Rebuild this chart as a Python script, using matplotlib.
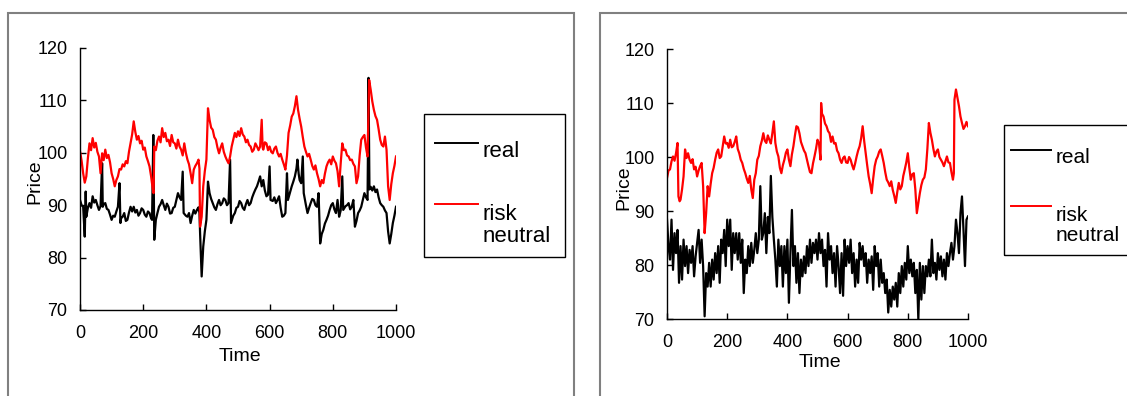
import numpy as np
import matplotlib
matplotlib.use("Agg")
import matplotlib.pyplot as plt
from matplotlib.patches import Rectangle
from matplotlib.legend_handler import HandlerLine2D

plt.rcParams['font.family'] = ['Liberation Sans', 'DejaVu Sans']

# ---------------- data: left panel ----------------
left_rn_t = [0, 5, 10, 15, 20, 25, 30, 35, 40, 45, 50, 55, 60, 65, 70, 75, 80, 85, 90, 95, 100, 105, 110,
             115, 120, 125, 130, 135, 140, 145, 150, 155, 160, 165, 170, 175, 180, 185, 190, 195, 200,
             205, 210, 215, 220, 225, 230, 233, 235, 240, 245, 250, 255, 260, 265, 270, 275, 280, 285,
             290, 295, 300, 305, 310, 315, 320, 325, 330, 335, 340, 345, 350, 355, 360, 365, 370, 375,
             378, 380, 385, 390, 395, 400, 405, 410, 415, 420, 425, 430, 435, 440, 445, 450, 455, 460,
             465, 470, 475, 480, 485, 490, 495, 500, 505, 510, 515, 520, 525, 530, 535, 540, 545, 550,
             555, 560, 565, 570, 575, 578, 580, 585, 590, 595, 600, 605, 610, 615, 620, 625, 630, 635,
             640, 645, 650, 655, 660, 665, 670, 675, 680, 685, 690, 695, 700, 705, 710, 715, 720, 725,
             730, 735, 740, 745, 750, 755, 760, 765, 770, 775, 780, 785, 790, 795, 800, 805, 810, 815,
             820, 825, 830, 835, 840, 845, 850, 855, 860, 865, 870, 875, 880, 885, 890, 895, 900, 905,
             910, 915, 920, 925, 930, 935, 940, 945, 950, 955, 960, 965, 970, 975, 980, 985, 990, 995,
             1000]
left_rn_v = [100.3, 98.5, 96.1, 94.3, 95.5, 99.0, 101.8, 100.5, 102.8, 101.0, 101.9, 100.2, 99.3, 96.1,
             99.9, 98.6, 100.6, 99.0, 99.6, 98.2, 96.1, 95.0, 93.6, 94.8, 95.5, 96.9, 96.8, 97.8, 97.4,
             98.4, 98.0, 100.2, 101.8, 103.5, 106.0, 104.0, 102.5, 103.2, 101.8, 102.3, 100.6, 101.0,
             99.3, 98.4, 97.4, 95.5, 93.2, 92.3, 101.2, 100.5, 102.3, 103.1, 102.0, 104.7, 103.0, 103.8,
             102.2, 102.5, 101.3, 103.4, 102.0, 101.8, 100.8, 102.5, 101.2, 100.6, 99.5, 101.8, 100.0,
             98.7, 97.8, 96.1, 94.2, 96.8, 97.5, 98.0, 98.7, 97.0, 85.9, 87.8, 93.6, 96.5, 98.7, 108.5,
             106.3, 104.8, 104.4, 103.0, 102.5, 101.0, 99.9, 101.0, 101.8, 100.2, 99.3, 98.6, 98.0, 99.3,
             101.2, 102.5, 103.8, 103.0, 104.1, 103.2, 104.7, 103.5, 103.1, 102.0, 102.5, 101.5, 101.2,
             100.2, 100.6, 101.8, 101.2, 100.5, 101.2, 106.3, 101.0, 100.6, 102.0, 101.8, 100.5, 101.2,
             100.2, 99.9, 100.8, 101.2, 100.0, 99.3, 99.8, 98.7, 97.8, 96.8, 99.5, 103.8, 105.2, 106.9,
             107.5, 108.9, 110.8, 108.2, 106.5, 105.0, 103.0, 101.2, 100.2, 99.3, 99.8, 98.7, 97.5, 96.8,
             97.6, 96.1, 95.0, 93.6, 94.8, 94.2, 96.0, 97.4, 98.2, 98.7, 97.8, 99.3, 98.5, 98.0, 96.5,
             93.6, 98.0, 101.8, 100.5, 100.6, 99.5, 99.3, 98.6, 98.7, 97.9, 97.4, 94.2, 95.5, 99.5, 102.5,
             103.0, 103.4, 101.0, 99.3, 113.9, 112.0, 109.8, 108.2, 107.0, 106.3, 104.5, 102.5, 101.5,
             101.2, 103.1, 100.6, 93.6, 91.0, 94.0, 96.1, 97.5, 99.3]

left_real_t = [0, 5, 10, 15, 18, 20, 25, 30, 35, 40, 45, 50, 55, 60, 65, 70, 72, 75, 80, 85, 90, 95, 100,
               105, 110, 115, 120, 125, 128, 130, 135, 140, 145, 150, 155, 160, 165, 170, 175, 180, 185,
               190, 195, 200, 205, 210, 215, 220, 225, 228, 232, 235, 240, 245, 250, 255, 260, 265, 270,
               275, 280, 285, 290, 295, 300, 305, 310, 315, 320, 325, 328, 335, 340, 345, 350, 355, 360,
               365, 370, 375, 378, 380, 385, 390, 395, 400, 405, 410, 415, 420, 425, 430, 435, 440, 445,
               450, 455, 460, 465, 470, 475, 478, 485, 490, 495, 500, 505, 510, 515, 520, 525, 530, 535,
               540, 545, 550, 555, 560, 565, 570, 575, 580, 585, 590, 595, 600, 603, 610, 615, 620, 625,
               630, 635, 640, 645, 650, 655, 658, 665, 670, 675, 680, 685, 688, 692, 695, 700, 705, 708,
               715, 720, 725, 730, 735, 740, 745, 750, 755, 760, 765, 770, 775, 780, 785, 790, 795, 800,
               805, 810, 815, 820, 825, 830, 833, 840, 845, 850, 855, 860, 865, 870, 875, 880, 885, 890,
               895, 900, 905, 910, 913, 916, 920, 925, 930, 935, 940, 945, 950, 955, 960, 965, 970, 975,
               980, 985, 990, 995, 1000]
left_real_v = [91.0, 90.0, 89.7, 84.0, 92.6, 87.8, 89.5, 90.4, 89.5, 91.7, 90.5, 91.0, 90.0, 89.1, 89.8,
               98.0, 89.7, 90.2, 90.4, 89.3, 89.1, 88.2, 87.2, 88.0, 87.8, 88.8, 89.7, 94.2, 86.6, 87.5,
               87.8, 88.5, 87.0, 87.2, 88.6, 89.7, 88.8, 89.7, 88.6, 89.1, 88.0, 88.5, 89.4, 89.1, 88.2,
               87.8, 88.8, 88.5, 87.5, 87.2, 103.4, 83.4, 87.2, 88.5, 89.7, 90.2, 91.0, 90.0, 89.1, 90.3,
               89.7, 88.4, 88.5, 89.5, 89.7, 91.0, 92.3, 91.5, 91.0, 96.4, 88.5, 88.0, 87.8, 88.5, 86.6,
               88.0, 89.1, 88.4, 89.1, 89.6, 88.5, 84.7, 76.4, 82.1, 85.0, 87.2, 94.5, 92.3, 91.2, 90.4,
               89.6, 89.1, 90.2, 91.0, 90.0, 90.4, 91.3, 91.0, 90.0, 90.4, 98.7, 86.6, 88.0, 88.5, 89.5,
               89.7, 90.8, 90.4, 89.5, 89.1, 90.2, 91.0, 90.0, 90.4, 91.5, 92.3, 93.0, 93.6, 94.5, 95.5,
               93.6, 94.8, 92.8, 91.7, 92.0, 97.4, 91.0, 90.8, 91.5, 90.4, 91.0, 91.7, 89.5, 87.8, 88.0,
               88.5, 96.1, 91.0, 92.5, 93.6, 94.5, 95.5, 97.0, 98.7, 96.0, 94.8, 94.2, 99.3, 92.3, 90.0,
               88.5, 89.5, 90.4, 91.2, 91.0, 90.0, 89.7, 92.3, 82.7, 84.5, 85.3, 86.5, 87.2, 88.0, 89.1,
               90.0, 90.4, 89.2, 88.5, 91.0, 87.8, 89.0, 95.5, 89.1, 89.8, 90.0, 90.4, 89.2, 89.7, 91.0,
               85.9, 87.0, 88.5, 89.0, 89.7, 91.0, 92.3, 91.5, 91.0, 114.3, 93.0, 93.5, 92.8, 93.6, 92.5,
               93.0, 91.5, 90.4, 90.0, 89.7, 89.0, 88.5, 85.0, 82.7, 84.5, 86.6, 88.0, 89.7]

# ---------------- data: right panel ----------------
right_rn_t = [0, 5, 10, 15, 20, 25, 30, 35, 38, 42, 45, 50, 55, 60, 65, 70, 75, 80, 85, 90, 95, 100, 105,
              110, 115, 120, 125, 130, 135, 140, 145, 150, 155, 160, 165, 170, 175, 180, 185, 190, 195,
              200, 205, 210, 215, 220, 225, 230, 235, 240, 245, 250, 255, 260, 265, 270, 275, 280, 285,
              290, 295, 300, 305, 310, 315, 320, 325, 330, 335, 340, 345, 350, 355, 360, 365, 370, 375,
              380, 385, 390, 395, 400, 405, 410, 415, 420, 425, 430, 435, 440, 445, 450, 455, 460, 465,
              470, 475, 480, 485, 490, 495, 500, 505, 510, 512, 515, 520, 525, 530, 535, 540, 545, 550,
              555, 560, 565, 570, 575, 580, 585, 590, 595, 600, 605, 610, 615, 620, 625, 630, 635, 640,
              645, 650, 655, 660, 665, 670, 675, 680, 685, 690, 695, 700, 705, 710, 715, 720, 725, 730,
              735, 740, 745, 750, 755, 760, 765, 770, 775, 780, 785, 790, 795, 800, 805, 810, 815, 820,
              825, 830, 835, 840, 845, 850, 855, 860, 865, 870, 875, 880, 885, 890, 895, 900, 905, 910,
              915, 920, 925, 930, 935, 940, 945, 950, 953, 955, 960, 965, 970, 975, 980, 985, 990, 995,
              1000]
right_rn_v = [96.1, 97.5, 97.7, 99.2, 100.1, 99.3, 100.7, 102.6, 92.7, 91.8, 92.1, 94.0, 96.4, 101.4,
              99.8, 100.7, 99.5, 98.9, 99.6, 97.7, 98.2, 96.4, 97.5, 98.3, 98.9, 94.6, 85.9, 89.6, 94.6,
              92.7, 95.0, 97.0, 98.0, 99.5, 100.8, 101.4, 99.8, 100.1, 102.0, 103.8, 102.5, 102.6, 101.7,
              103.2, 101.8, 102.0, 102.8, 103.8, 101.5, 100.7, 99.5, 98.9, 97.8, 97.0, 96.0, 95.2, 96.5,
              94.0, 92.4, 95.8, 97.0, 99.5, 100.2, 102.0, 103.0, 104.4, 103.0, 102.6, 104.0, 103.2, 102.5,
              104.4, 106.6, 102.6, 101.0, 100.1, 98.0, 97.0, 98.5, 99.5, 100.8, 101.4, 99.5, 98.3, 100.5,
              102.0, 104.0, 105.7, 105.5, 104.4, 102.8, 102.0, 101.2, 100.7, 99.5, 98.3, 97.2, 97.0, 98.8,
              100.1, 101.5, 103.2, 102.5, 99.5, 110.0, 108.0, 107.5, 106.2, 105.7, 104.8, 104.4, 102.8,
              103.8, 102.5, 102.6, 101.2, 100.7, 99.5, 98.9, 99.8, 100.1, 99.0, 98.9, 100.0, 99.5, 98.5,
              97.7, 98.8, 100.1, 101.2, 102.0, 103.5, 105.7, 103.0, 100.7, 98.5, 96.4, 95.0, 93.3, 96.0,
              98.3, 99.5, 100.1, 101.0, 101.4, 100.2, 98.9, 97.2, 95.8, 95.3, 94.6, 95.5, 93.9, 92.8, 91.5,
              93.5, 95.2, 94.0, 94.6, 96.5, 97.7, 99.0, 100.7, 98.0, 95.8, 96.8, 97.0, 94.0, 89.6, 91.5,
              93.3, 94.8, 95.8, 96.2, 97.7, 101.5, 106.3, 104.5, 103.2, 101.5, 100.1, 101.0, 101.4, 100.0,
              99.5, 99.0, 98.3, 99.2, 100.1, 99.0, 98.9, 97.2, 95.8, 97.0, 110.6, 112.5, 111.0, 109.4,
              107.5, 106.3, 105.2, 105.7, 106.5, 105.7]

right_real_t = list(range(0, 1001, 5))
right_real_v = [88.4, 83.5, 81.0, 88.4, 79.1, 85.9, 82.2, 86.5, 76.7, 83.5, 77.3, 84.7, 79.8, 83.5, 78.5,
                82.8, 80.4, 83.5, 77.9, 81.6, 84.1, 86.5, 80.4, 84.7, 79.8, 70.5, 78.5, 76.0, 80.4, 76.0,
                81.0, 77.3, 82.2, 78.5, 83.5, 76.7, 84.7, 82.2, 86.5, 79.8, 88.4, 83.5, 88.4, 79.1, 85.9,
                82.2, 85.9, 81.0, 85.9, 80.4, 84.7, 74.8, 81.0, 78.5, 83.5, 79.8, 84.1, 80.4, 82.8, 85.9,
                82.2, 84.7, 94.6, 84.7, 85.9, 89.6, 82.2, 88.9, 85.9, 96.5, 88.9, 84.7, 81.0, 76.0, 84.7,
                79.8, 83.5, 76.0, 83.5, 78.5, 84.7, 73.0, 82.2, 90.2, 79.8, 83.5, 76.7, 82.2, 74.8, 81.0,
                77.9, 81.6, 78.5, 83.5, 79.8, 84.7, 80.4, 84.1, 82.2, 84.7, 81.0, 85.9, 82.2, 84.7, 79.8,
                82.8, 76.0, 85.9, 81.0, 83.5, 78.5, 82.2, 76.0, 83.5, 79.8, 74.8, 82.2, 74.3, 84.7, 79.8,
                83.5, 80.4, 84.7, 78.5, 82.2, 76.0, 81.0, 76.7, 84.1, 81.0, 83.5, 79.8, 82.2, 76.7, 81.0,
                78.5, 81.6, 75.4, 83.5, 79.8, 82.2, 76.0, 81.0, 76.7, 78.5, 74.8, 77.3, 71.2, 75.4, 72.3,
                76.0, 73.6, 76.7, 72.3, 78.5, 74.8, 79.8, 76.0, 80.4, 77.3, 83.5, 78.5, 81.0, 77.9, 80.4,
                74.8, 79.1, 69.9, 80.4, 73.6, 79.8, 74.8, 79.8, 77.9, 81.0, 77.9, 84.7, 78.5, 80.4, 77.3,
                82.2, 79.1, 81.6, 77.9, 81.0, 77.3, 82.2, 79.8, 82.2, 84.1, 81.0, 83.5, 88.4, 85.9, 82.2,
                89.6, 92.7, 86.5, 79.8, 88.4, 89.0]

x_ticks = [0, 200, 400, 600, 800, 1000]
y_ticks = [70, 80, 90, 100, 110, 120]
label_real = "real"
label_rn = "risk\nneutral"


class ShiftedLine(HandlerLine2D):
    """Legend line raised by a fraction of the font size (Excel-like placement)."""
    def __init__(self, shift, **kw):
        super().__init__(**kw)
        self.shift = shift

    def create_artists(self, legend, orig_handle, xdescent, ydescent, width, height, fontsize, trans):
        arts = super().create_artists(legend, orig_handle, xdescent, ydescent, width, height,
                                      fontsize, trans)
        for a in arts:
            a.set_ydata(np.asarray(a.get_ydata(), dtype=float) + self.shift * fontsize)
        return arts


W, H = 1127, 396
fig = plt.figure(figsize=(W / 100, H / 100), dpi=100)


def fig_rect(x0, y0, x1, y1, **kw):
    fig.add_artist(Rectangle((x0 / W, 1 - y1 / H), (x1 - x0) / W, (y1 - y0) / H,
                             transform=fig.transFigure, fill=False, clip_on=False, **kw))


# panel frames
fig_rect(8, 13, 574, 430, edgecolor='#808080', lw=1.5)
fig_rect(600, 13, 1160, 430, edgecolor='#808080', lw=1.5)
# legend frames
fig_rect(424, 114, 565, 257, edgecolor='black', lw=1.0)
fig_rect(1004, 125, 1160, 255, edgecolor='black', lw=1.0)

ax1 = fig.add_axes([80 / W, 1 - 310 / H, 316 / W, 262 / H])
ax2 = fig.add_axes([667 / W, 1 - 319 / H, 301 / W, 270 / H])

panels = [
    dict(ax=ax1, rt=left_real_t, rv=left_real_v, nt=left_rn_t, nv=left_rn_v,
         leg_xy=(435 / W, 1 - 141 / H), leg_fs=16, lsp=1.87,
         ylab=(-0.117, 0.489), xlab=(0.506, -0.145)),
    dict(ax=ax2, rt=right_real_t, rv=right_real_v, nt=right_rn_t, nv=right_rn_v,
         leg_xy=(1011 / W, 1 - 148 / H), leg_fs=15, lsp=1.85,
         ylab=(-0.116, 0.485), xlab=(0.508, -0.130)),
]

for p in panels:
    ax = p['ax']
    l1, = ax.plot(p['rt'], p['rv'], color='black', lw=1.6, label=label_real)
    l2, = ax.plot(p['nt'], p['nv'], color='#ff0000', lw=1.6, label=label_rn)
    ax.set_xlim(0, 1000)
    ax.set_ylim(70, 120)
    ax.set_xticks(x_ticks)
    ax.set_yticks(y_ticks)
    for s in ['top', 'right']:
        ax.spines[s].set_visible(False)
    for s in ['left', 'bottom']:
        ax.spines[s].set_linewidth(1.0)
    ax.tick_params(direction='in', length=4, width=1.0, labelsize=13)
    ax.tick_params(axis='y', pad=9)
    ax.tick_params(axis='x', pad=11)
    ax.set_ylabel("Price", fontsize=14)
    ax.set_xlabel("Time", fontsize=14)
    ax.yaxis.set_label_coords(*p['ylab'])
    ax.xaxis.set_label_coords(*p['xlab'])
    ax.patch.set_alpha(0)
    leg = ax.legend(handles=[l1, l2], loc='upper left', bbox_to_anchor=p['leg_xy'],
                    bbox_transform=fig.transFigure, borderaxespad=0, borderpad=0, frameon=False,
                    fontsize=p['leg_fs'], handlelength=1.94, handletextpad=0.18,
                    labelspacing=p['lsp'],
                    handler_map={l1: ShiftedLine(0.28), l2: ShiftedLine(0.96)})
    for txt in leg.get_texts():
        txt.set_linespacing(1.12)
    for lh in leg.get_lines():
        lh.set_linewidth(1.4)

fig.savefig("out.png", dpi=100)
